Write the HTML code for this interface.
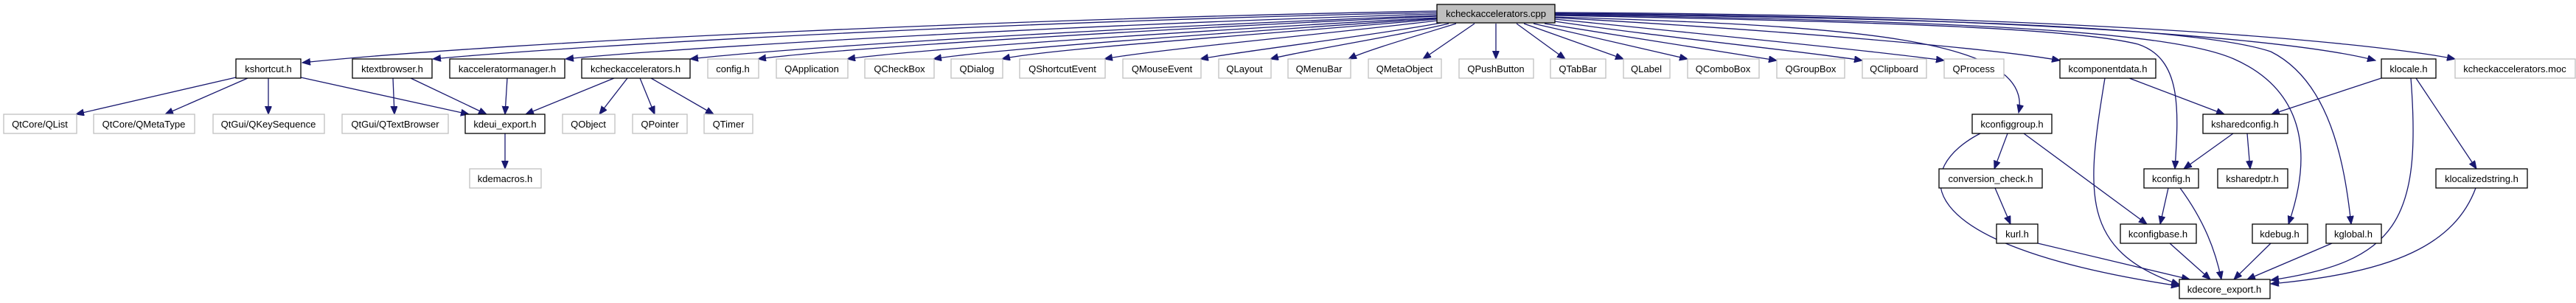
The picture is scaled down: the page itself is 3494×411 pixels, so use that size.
<!DOCTYPE html>
<html><head><meta charset="utf-8"><style>
html,body{margin:0;padding:0;background:#fff;width:3494px;height:411px;overflow:hidden}
svg text{font-family:"Liberation Sans",Arial,sans-serif;font-size:13px;fill:#000}
.e{fill:none;stroke:#191970;stroke-width:1.3}
.g{fill:#fff;stroke:#bfbfbf;stroke-width:1.3}
.b{fill:#fff;stroke:#000;stroke-width:1.3}
</style></head><body>
<svg width="3494" height="411" viewBox="0 0 3494 411" xmlns="http://www.w3.org/2000/svg">
<defs><marker id="a" markerUnits="userSpaceOnUse" markerWidth="12" markerHeight="10" refX="11" refY="4.5" orient="auto"><path d="M0,0 L11,4.5 L0,9 z" fill="#191970" stroke="#191970"/></marker></defs>
<g marker-end="url(#a)">
<path class="e" d="M1949,15 C1400,25 700,55 410,85"/>
<path class="e" d="M1949,17 C1400,28 800,60 587,80"/>
<path class="e" d="M1949,19 C1500,32 950,62 767,80"/>
<path class="e" d="M1949,21 C1550,36 1100,62 936,80"/>
<path class="e" d="M1949,22 C1600,38 1150,64 1028,80"/>
<path class="e" d="M1949,24 C1650,40 1250,66 1149,80"/>
<path class="e" d="M1949,25 C1700,42 1350,66 1266,80"/>
<path class="e" d="M1949,26 C1750,44 1420,66 1359,80"/>
<path class="e" d="M1949,28 C1800,46 1560,68 1498,80"/>
<path class="e" d="M1955,31 C1850,50 1680,70 1628,80"/>
<path class="e" d="M1965,32 C1880,52 1760,70 1723,80"/>
<path class="e" d="M1975,32 C1900,55 1850,70 1829,80"/>
<path class="e" d="M2000,32 L1930,80"/>
<path class="e" d="M2029,32 L2029,80"/>
<path class="e" d="M2057,32 L2123,80"/>
<path class="e" d="M2067,32 L2202,80"/>
<path class="e" d="M2080,32 L2289,80"/>
<path class="e" d="M2095,32 L2410,82"/>
<path class="e" d="M2109,29 C2250,50 2450,70 2526,82"/>
<path class="e" d="M2109,26 C2300,45 2550,70 2637,82"/>
<path class="e" d="M2109,24 C2400,40 2700,65 2794,82"/>
<path class="e" d="M2109,23 C2500,35 2760,50 2738,153"/>
<path class="e" d="M2109,21 C2600,30 2820,40 2900,60 C2960,80 2955,150 2950,229"/>
<path class="e" d="M2109,20 C2700,28 2950,45 3030,80 C3120,120 3140,200 3104,304"/>
<path class="e" d="M2109,19 C2700,25 2990,40 3080,70 C3160,110 3180,220 3189,304"/>
<path class="e" d="M2109,18 C2700,22 3100,50 3222,82"/>
<path class="e" d="M2109,17 C2800,20 3200,55 3330,80"/>
<path class="e" d="M320,105 L103,155"/>
<path class="e" d="M336,106 L224,155"/>
<path class="e" d="M364,106 L364,155"/>
<path class="e" d="M408,105 L636,155"/>
<path class="e" d="M533,106 L535,155"/>
<path class="e" d="M557,106 L660,155"/>
<path class="e" d="M688,106 L685,155"/>
<path class="e" d="M833,106 L713,155"/>
<path class="e" d="M851,106 L813,155"/>
<path class="e" d="M868,106 L888,155"/>
<path class="e" d="M883,106 L968,155"/>
<path class="e" d="M685,181 L685,229"/>
<path class="e" d="M2888,106 L3017,155"/>
<path class="e" d="M2855,106 C2830,260 2820,340 2956,386"/>
<path class="e" d="M3230,106 L3081,155"/>
<path class="e" d="M3270,106 C3285,300 3250,355 3080,380"/>
<path class="e" d="M3277,106 L3359,229"/>
<path class="e" d="M2723,181 L2705,229"/>
<path class="e" d="M2745,181 L2912,304"/>
<path class="e" d="M2686,181 C2600,225 2570,330 2956,388"/>
<path class="e" d="M3029,181 L2962,229"/>
<path class="e" d="M3048,181 L3052,229"/>
<path class="e" d="M2706,255 L2727,304"/>
<path class="e" d="M2941,255 L2930,304"/>
<path class="e" d="M2957,255 C2990,300 3005,340 3013,379"/>
<path class="e" d="M2764,330 L2970,379"/>
<path class="e" d="M2943,330 L2998,379"/>
<path class="e" d="M3080,330 L3030,379"/>
<path class="e" d="M3163,330 L3048,379"/>
<path class="e" d="M3358,255 C3330,330 3250,370 3080,385"/>
</g>
<rect x="1949" y="6" width="160" height="25" fill="#bfbfbf" stroke="#000" stroke-width="1.3"/><text x="2029" y="23" text-anchor="middle">kcheckaccelerators.cpp</text>
<g>
<rect class="b" x="320" y="80" width="88" height="26"/><text x="364" y="98" text-anchor="middle">kshortcut.h</text>
<rect class="b" x="478" y="80" width="108" height="26"/><text x="532" y="98" text-anchor="middle">ktextbrowser.h</text>
<rect class="b" x="610" y="80" width="156" height="26"/><text x="688" y="98" text-anchor="middle">kacceleratormanager.h</text>
<rect class="b" x="789" y="80" width="147" height="26"/><text x="862" y="98" text-anchor="middle">kcheckaccelerators.h</text>
<rect class="g" x="960" y="80" width="69" height="26"/><text x="994" y="98" text-anchor="middle">config.h</text>
<rect class="g" x="1053" y="80" width="97" height="26"/><text x="1101" y="98" text-anchor="middle">QApplication</text>
<rect class="g" x="1173" y="80" width="94" height="26"/><text x="1220" y="98" text-anchor="middle">QCheckBox</text>
<rect class="g" x="1290" y="80" width="70" height="26"/><text x="1325" y="98" text-anchor="middle">QDialog</text>
<rect class="g" x="1383" y="80" width="116" height="26"/><text x="1441" y="98" text-anchor="middle">QShortcutEvent</text>
<rect class="g" x="1523" y="80" width="106" height="26"/><text x="1576" y="98" text-anchor="middle">QMouseEvent</text>
<rect class="g" x="1653" y="80" width="71" height="26"/><text x="1688" y="98" text-anchor="middle">QLayout</text>
<rect class="g" x="1747" y="80" width="85" height="26"/><text x="1789" y="98" text-anchor="middle">QMenuBar</text>
<rect class="g" x="1856" y="80" width="99" height="26"/><text x="1905" y="98" text-anchor="middle">QMetaObject</text>
<rect class="g" x="1979" y="80" width="101" height="26"/><text x="2029" y="98" text-anchor="middle">QPushButton</text>
<rect class="g" x="2103" y="80" width="75" height="26"/><text x="2140" y="98" text-anchor="middle">QTabBar</text>
<rect class="g" x="2202" y="80" width="63" height="26"/><text x="2233" y="98" text-anchor="middle">QLabel</text>
<rect class="g" x="2289" y="80" width="97" height="26"/><text x="2337" y="98" text-anchor="middle">QComboBox</text>
<rect class="g" x="2410" y="80" width="92" height="26"/><text x="2456" y="98" text-anchor="middle">QGroupBox</text>
<rect class="g" x="2526" y="80" width="87" height="26"/><text x="2569" y="98" text-anchor="middle">QClipboard</text>
<rect class="g" x="2637" y="80" width="81" height="26"/><text x="2677" y="98" text-anchor="middle">QProcess</text>
<rect class="b" x="2794" y="80" width="130" height="26"/><text x="2859" y="98" text-anchor="middle">kcomponentdata.h</text>
<rect class="b" x="3230" y="80" width="74" height="26"/><text x="3267" y="98" text-anchor="middle">klocale.h</text>
<rect class="g" x="3330" y="80" width="163" height="26"/><text x="3411" y="98" text-anchor="middle">kcheckaccelerators.moc</text>
<rect class="g" x="5" y="155" width="99" height="26"/><text x="54" y="173" text-anchor="middle">QtCore/QList</text>
<rect class="g" x="127" y="155" width="137" height="26"/><text x="195" y="173" text-anchor="middle">QtCore/QMetaType</text>
<rect class="g" x="289" y="155" width="151" height="26"/><text x="364" y="173" text-anchor="middle">QtGui/QKeySequence</text>
<rect class="g" x="464" y="155" width="144" height="26"/><text x="536" y="173" text-anchor="middle">QtGui/QTextBrowser</text>
<rect class="b" x="631" y="155" width="108" height="26"/><text x="685" y="173" text-anchor="middle">kdeui_export.h</text>
<rect class="g" x="763" y="155" width="71" height="26"/><text x="798" y="173" text-anchor="middle">QObject</text>
<rect class="g" x="858" y="155" width="74" height="26"/><text x="895" y="173" text-anchor="middle">QPointer</text>
<rect class="g" x="955" y="155" width="66" height="26"/><text x="988" y="173" text-anchor="middle">QTimer</text>
<rect class="b" x="2675" y="155" width="108" height="26"/><text x="2729" y="173" text-anchor="middle">kconfiggroup.h</text>
<rect class="b" x="2988" y="155" width="115" height="26"/><text x="3045" y="173" text-anchor="middle">ksharedconfig.h</text>
<rect class="g" x="637" y="229" width="97" height="26"/><text x="685" y="247" text-anchor="middle">kdemacros.h</text>
<rect class="b" x="2630" y="229" width="140" height="26"/><text x="2700" y="247" text-anchor="middle">conversion_check.h</text>
<rect class="b" x="2908" y="229" width="74" height="26"/><text x="2945" y="247" text-anchor="middle">kconfig.h</text>
<rect class="b" x="3008" y="229" width="95" height="26"/><text x="3055" y="247" text-anchor="middle">ksharedptr.h</text>
<rect class="b" x="3304" y="229" width="124" height="26"/><text x="3366" y="247" text-anchor="middle">klocalizedstring.h</text>
<rect class="b" x="2708" y="304" width="56" height="26"/><text x="2736" y="322" text-anchor="middle">kurl.h</text>
<rect class="b" x="2876" y="304" width="103" height="26"/><text x="2927" y="322" text-anchor="middle">kconfigbase.h</text>
<rect class="b" x="3055" y="304" width="75" height="26"/><text x="3092" y="322" text-anchor="middle">kdebug.h</text>
<rect class="b" x="3155" y="304" width="75" height="26"/><text x="3192" y="322" text-anchor="middle">kglobal.h</text>
<rect class="b" x="2956" y="379" width="123" height="26"/><text x="3017" y="397" text-anchor="middle">kdecore_export.h</text>
</g>
</svg>
</body></html>
